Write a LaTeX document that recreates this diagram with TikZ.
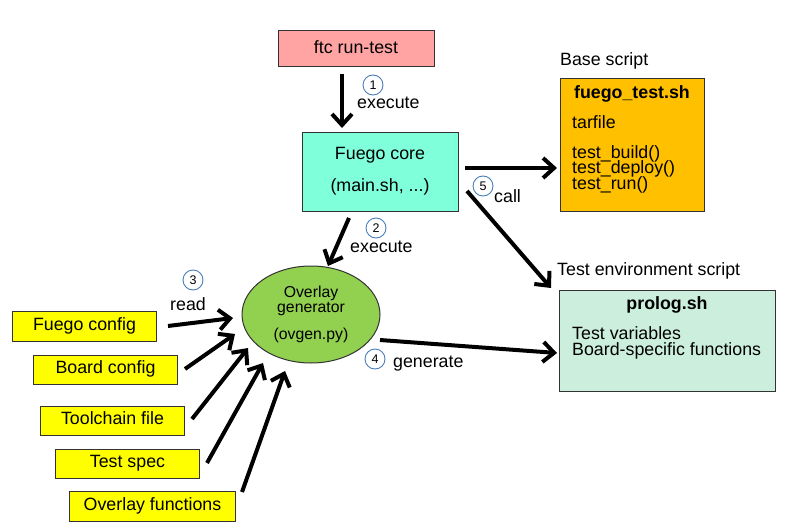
\documentclass[tikz,border=0pt]{standalone}
\usepackage{fontspec}
\setmainfont{Liberation Sans}
\usetikzlibrary{arrows.meta,shapes.geometric}
\definecolor{ftcred}{HTML}{FFA3A3}
\definecolor{coreaqua}{HTML}{80FFDB}
\definecolor{baseorange}{HTML}{FFC000}
\definecolor{prologgreen}{HTML}{CCEEDD}
\definecolor{ovgreen}{HTML}{92D050}
\definecolor{cfgyellow}{HTML}{FFFF00}
\definecolor{numblue}{HTML}{4A7EBB}
\tikzset{
  lbl/.style={font=\fontsize{17.8}{18}\selectfont, text height=12.8, text depth=0, inner sep=0},
  small/.style={font=\fontsize{15.8}{16}\selectfont, text height=11.3, text depth=0, inner sep=0},
  boldlbl/.style={lbl, font=\fontsize{17.8}{18}\selectfont\bfseries},
  box/.style={draw=black!80, line width=1, inner sep=0},
  cfgbox/.style={box, fill=cfgyellow, minimum height=29, lbl, text depth=5.5},
  arr/.style={line width=4, -{Straight Barb[length=11,width=20]}},
  num/.style={circle, draw=numblue, line width=0.9, fill=white, minimum size=20, inner sep=0,
    font=\fontsize{12.5}{12.5}\selectfont},
}
\begin{document}
\begin{tikzpicture}[x=1pt,y=-1pt]
\useasboundingbox (0,0) rectangle (789,532);
% top
\node[box, lbl, text depth=4, fill=ftcred, minimum width=156, minimum height=36] (ftc) at (356,49) {ftc run-test};
\node[box, fill=coreaqua, minimum width=156, minimum height=79] (core) at (380,171.5) {};
\node[lbl] (coreA) at (380,153) {Fuego core};
\node[lbl] (coreB) at (380,185) {(main.sh, ...)};
% base script
\node[lbl, anchor=west] (baselbl) at (560,59) {Base script};
\node[box, fill=baseorange, minimum width=144, minimum height=133, anchor=north west] (base) at (560,78) {};
\node[boldlbl] (baseT) at (632,92) {fuego\_test.sh};
\node[lbl, anchor=west] (tar) at (572,122) {tarfile};
\node[lbl, anchor=west] (tb) at (572,152) {test\_build()};
\node[lbl, anchor=west] (td) at (572,167.5) {test\_deploy()};
\node[lbl, anchor=west] (tr) at (572,183) {test\_run()};
% prolog
\node[lbl, anchor=west] (envlbl) at (557,269) {Test environment script};
\node[box, fill=prologgreen, minimum width=216, minimum height=101, anchor=north west] (prolog) at (559,290) {};
\node[boldlbl] (prologT) at (667,303) {prolog.sh};
\node[lbl, anchor=west] (tv) at (572,333) {Test variables};
\node[lbl, anchor=west] (bs) at (572,349) {Board-specific functions};
% overlay generator
\node[ellipse, draw=black!80, line width=1, fill=ovgreen, minimum width=138, minimum height=97, inner sep=0] (ovg) at (311,314.5) {};
\node[small] (ovA) at (311,292) {Overlay};
\node[small] (ovB) at (311,307) {generator};
\node[small] (ovC) at (311,334) {(ovgen.py)};
% config boxes
\node[cfgbox, minimum width=144, minimum height=30, anchor=north west] (fcfg) at (12,311) {Fuego config};
\node[cfgbox, minimum width=144, anchor=north west] (bcfg) at (33,355) {Board config};
\node[cfgbox, minimum width=144, anchor=north west] (tcf) at (40,406) {Toolchain file};
\node[cfgbox, minimum width=144, anchor=north west] (tsp) at (55,449) {Test spec};
\node[cfgbox, minimum width=166, minimum height=30, anchor=north west] (ovf) at (69,491) {Overlay functions};
% connector end points
\coordinate (e1s) at (342,74);   \coordinate (e1t) at (342,128);
\coordinate (e2s) at (349,218);  \coordinate (e2t) at (328,266);
\coordinate (bss) at (465,168);  \coordinate (bst) at (557,168);
\coordinate (c5s) at (467,191);  \coordinate (c5t) at (551,288);
\coordinate (g4s) at (380,340);  \coordinate (g4t) at (557,353);
\coordinate (r1s) at (168,326);  \coordinate (r1t) at (233,318);
\coordinate (r2s) at (185,369);  \coordinate (r2t) at (235,334);
\coordinate (r3s) at (192,419);  \coordinate (r3t) at (248,348);
\coordinate (r4s) at (207,463);  \coordinate (r4t) at (263,363);
\coordinate (r5s) at (242,492);  \coordinate (r5t) at (285,371);
% connectors
\draw[arr] (e1s) -- (e1t);
\draw[arr] (e2s) -- (e2t);
\draw[arr] (bss) -- (bst);
\draw[arr] (c5s) -- (c5t);
\draw[arr] (g4s) -- (g4t);
\draw[arr] (r1s) -- (r1t);
\draw[arr] (r2s) -- (r2t);
\draw[arr] (r3s) -- (r3t);
\draw[arr] (r4s) -- (r4t);
\draw[arr] (r5s) -- (r5t);
% step labels
\node[num] (n1) at (373,85) {1};
\node[lbl, anchor=west] (x1) at (357,102) {execute};
\node[num] (n2) at (376,228) {2};
\node[lbl, anchor=west] (x2) at (350,246) {execute};
\node[num] (n3) at (193,280) {3};
\node[lbl] (rd) at (188,304) {read};
\node[num] (n4) at (375,359) {4};
\node[lbl, anchor=west] (gen) at (393,361) {generate};
\node[num] (n5) at (483,186) {5};
\node[lbl, anchor=west] (call) at (494,196) {call};
\end{tikzpicture}
\end{document}
